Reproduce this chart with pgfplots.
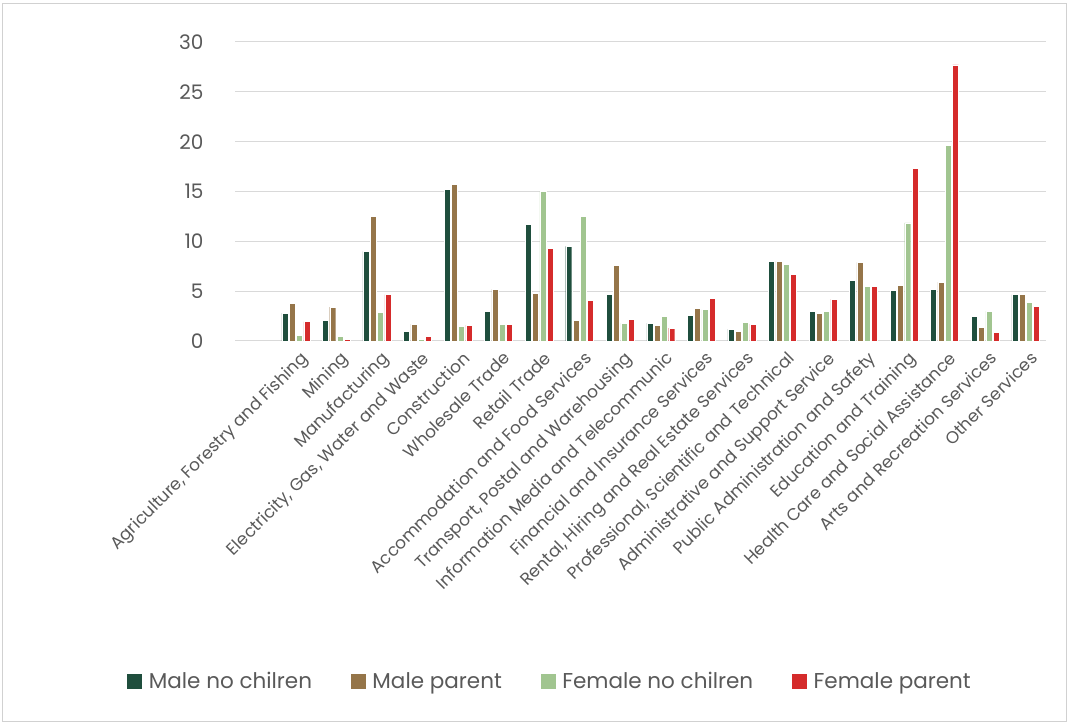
\documentclass[border=0pt]{standalone}
\usepackage{pgfplots}
\pgfplotsset{compat=1.18}
\usepackage{fontspec}
\setmainfont{Poppins}
\definecolor{cA}{HTML}{1F4E3D}
\definecolor{cB}{HTML}{957549}
\definecolor{cC}{HTML}{A1C590}
\definecolor{cD}{HTML}{D52B2B}
\definecolor{txt}{HTML}{595959}
\begin{document}
\begin{tikzpicture}
\path[use as bounding box] (0pt,0pt) rectangle (1070pt,725pt);
\draw[black!18, line width=1pt] (2pt,4pt) rectangle (1066pt,721pt);
\begin{axis}[at={(235pt,384pt)}, anchor=south west, scale only axis,
  width=811pt, height=299pt,
  ybar=1.3pt, bar width=6pt,
  xmin=-1.5, xmax=18.5, ymin=0, ymax=30, ytick={0,5,...,30},
  ymajorgrids, major grid style={black!15, line width=1pt},
  axis line style={draw=none},
  xtick={0,...,18},
  xticklabels={{Agriculture, Forestry and Fishing},Mining,Manufacturing,{Electricity, Gas, Water and Waste},Construction,Wholesale Trade,Retail Trade,Accommodation and Food Services,{Transport, Postal and Warehousing},Information Media and Telecommunic,Financial and Insurance Services,{Rental, Hiring and Real Estate Services},{Professional, Scientific and Technical},Administrative and Support Service,Public Administration and Safety,Education and Training,Health Care and Social Assistance,Arts and Recreation Services,Other Services},
  x tick label style={rotate=45, anchor=north east, font=\fontsize{17}{19}\selectfont, text=txt, inner sep=1pt, xshift=0pt, yshift=-5pt},
  y tick label style={font=\fontsize{20}{22}\selectfont, text=txt},
  /pgf/number format/assume math mode=true,
  yticklabel style={xshift=-28pt},
  tick style={draw=none},
  legend style={at={(0.388,-1.137)}, anchor=center, draw=none, fill=none,
    legend columns=4, font=\fontsize{21.5}{23}\selectfont, text=txt,
    /tikz/every odd column/.append style={column sep=4pt},
    /tikz/every even column/.append style={column sep=36pt}},
  legend image code/.code={\fill[#1] (0pt,-8pt) rectangle (16pt,8pt);},
  every axis plot/.append style={draw=white, line width=0.4pt},
]
\addplot[fill=cA] coordinates {(0,2.8) (1,2.1) (2,9.0) (3,0.95) (4,15.2) (5,2.95) (6,11.7) (7,9.5) (8,4.65) (9,1.8) (10,2.6) (11,1.2) (12,8.0) (13,2.95) (14,6.1) (15,5.05) (16,5.2) (17,2.5) (18,4.65)};
\addplot[fill=cB] coordinates {(0,3.8) (1,3.4) (2,12.5) (3,1.7) (4,15.7) (5,5.2) (6,4.75) (7,2.1) (8,7.6) (9,1.55) (10,3.3) (11,1.0) (12,8.0) (13,2.8) (14,7.9) (15,5.6) (16,5.9) (17,1.4) (18,4.65)};
\addplot[fill=cC] coordinates {(0,0.6) (1,0.5) (2,2.9) (3,0.2) (4,1.5) (5,1.7) (6,15.0) (7,12.5) (8,1.8) (9,2.5) (10,3.15) (11,1.9) (12,7.7) (13,3.0) (14,5.45) (15,11.85) (16,19.65) (17,3.0) (18,3.85)};
\addplot[fill=cD] coordinates {(0,1.95) (1,0.2) (2,4.65) (3,0.45) (4,1.6) (5,1.7) (6,9.3) (7,4.1) (8,2.2) (9,1.3) (10,4.3) (11,1.7) (12,6.7) (13,4.2) (14,5.45) (15,17.3) (16,27.7) (17,0.85) (18,3.45)};
\legend{Male no chilren, Male parent, Female no chilren, Female parent}
\end{axis}
\end{tikzpicture}
\end{document}
